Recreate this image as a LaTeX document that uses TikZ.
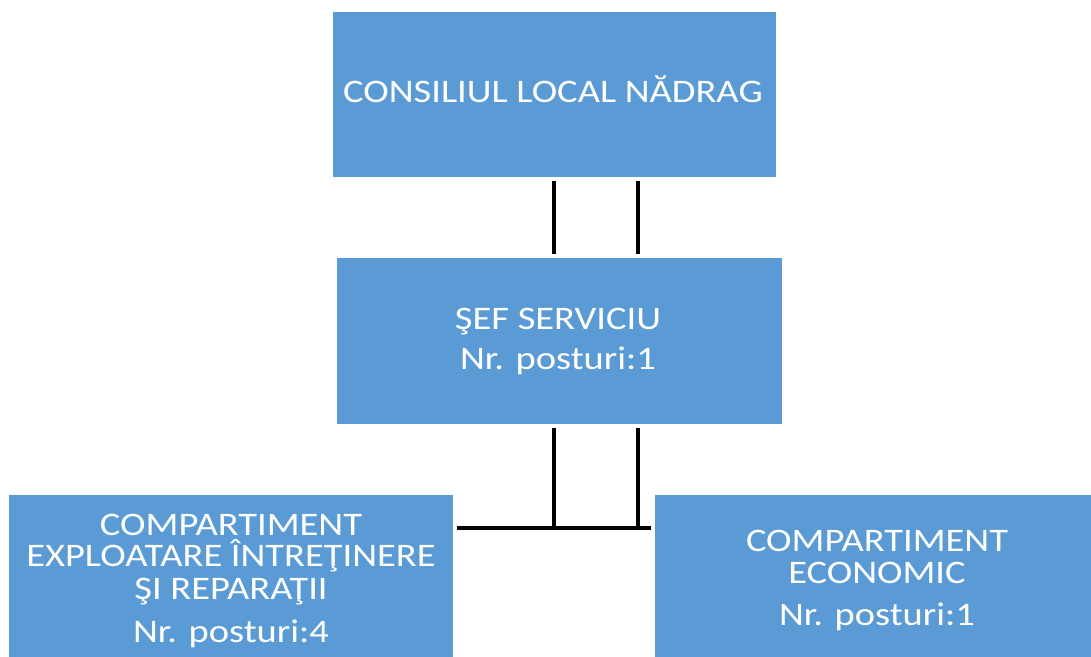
\documentclass[tikz,border=0pt]{standalone}
\usepackage{fontspec}
\setmainfont{Carlito}[FakeStretch=1.17]
\definecolor{boxblue}{RGB}{91,155,213}
\begin{document}
\begin{tikzpicture}[x=1bp,y=-1bp,
  box/.style={fill=boxblue, draw=none, inner sep=0pt, outer sep=0pt, anchor=north west},
  lbl/.style={text=white, anchor=base, inner sep=0pt, font=\fontsize{33}{33}\selectfont},
  conn/.style={line width=3.6bp, draw=black}]
\useasboundingbox (0,0) rectangle (1091,657);
\node[box, minimum width=443bp, minimum height=165bp] (top) at (333,12) {};
\node[box, minimum width=445bp, minimum height=166bp] (mid) at (337,258) {};
\node[box, minimum width=444bp, minimum height=162bp] (left) at (9,495) {};
\node[box, minimum width=436bp, minimum height=162bp] (right) at (655,495) {};
\node[lbl] (t1) at (553,103) {CONSILIUL LOCAL NĂDRAG};
\node[lbl] (m1) at (558,329) {ŞEF SERVICIU};
\node[lbl] (m2) at (558,369) {Nr. posturi:1};
\node[lbl] (l1) at (231,535) {COMPARTIMENT};
\node[lbl] (l2) at (231,566) {EXPLOATARE ÎNTREŢINERE};
\node[lbl] (l3) at (231,599) {ŞI REPARAŢII};
\node[lbl] (l4) at (231,642) {Nr. posturi:4};
\node[lbl] (r1) at (877,551) {COMPARTIMENT};
\node[lbl] (r2) at (877,583) {ECONOMIC};
\node[lbl] (r3) at (877,625) {Nr. posturi:1};
\coordinate (xa) at (554,0);
\coordinate (xb) at (638,0);
\coordinate (hy) at (0,528);
\draw[conn, shorten <=4bp, shorten >=4bp] (top.south -| xa) -- (mid.north -| xa);
\draw[conn, shorten <=4bp, shorten >=4bp] (top.south -| xb) -- (mid.north -| xb);
\draw[conn, shorten <=4bp] (mid.south -| xa) -- (hy -| xa);
\draw[conn, shorten <=4bp] (mid.south -| xb) -- (hy -| xb);
\draw[conn, shorten <=4bp, shorten >=4bp] (left.east |- hy) -- (right.west |- hy);
\end{tikzpicture}
\end{document}
